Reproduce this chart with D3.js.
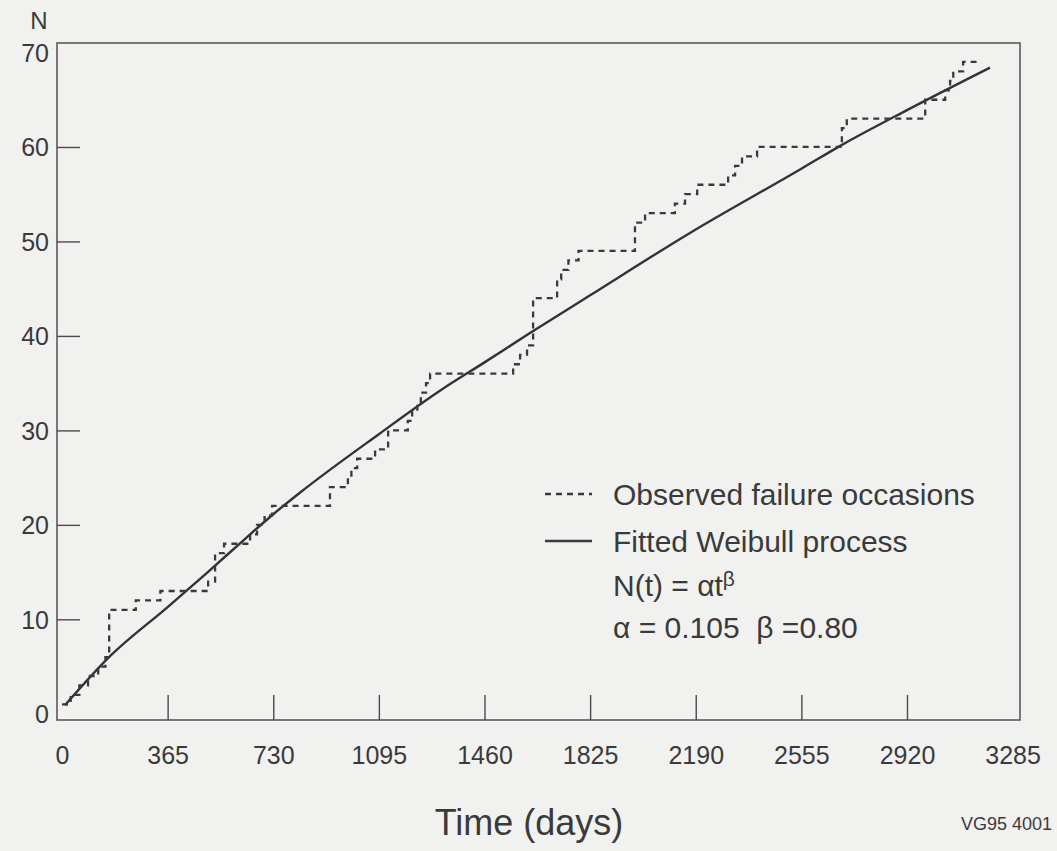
<!DOCTYPE html>
<html>
<head>
<meta charset="utf-8">
<script src="https://cdn.jsdelivr.net/npm/d3@7"></script>
<style>
  html, body { margin: 0; padding: 0; background: #f1f1f0; }
  svg { display: block; }
  text { font-family: "Liberation Sans", Arial, Helvetica, sans-serif; fill: #3a3a3a; }
</style>
</head>
<body>
<svg id="chart" width="1057" height="851"></svg>
<script>
// Axis ticks
const xTicks = [0, 365, 730, 1095, 1460, 1825, 2190, 2555, 2920, 3285];
const yTicks = [0, 10, 20, 30, 40, 50, 60, 70];

// Observed failure occasions: day of each jump and cumulative count after it
const failureDays = [0, 30, 60, 90, 125, 150, 163, 255, 340, 505, 529, 560, 650, 674, 700, 726,
  926, 988, 1000, 1020, 1082, 1127, 1195, 1210, 1228, 1240, 1258, 1272, 1559, 1583, 1607, 1628,
  1711, 1725, 1750, 1785, 1980, 2015, 2118, 2153, 2195, 2302, 2326, 2350, 2402, 2695, 2712,
  2983, 3052, 3069, 3080, 3114, 3172];
const failureCounts = [1, 2, 3, 4, 5, 6, 11, 12, 13, 14, 17, 18, 19, 20, 21, 22,
  24, 25, 26, 27, 28, 30, 31, 32, 33, 34, 35, 36, 37, 38, 39, 44,
  46, 47, 48, 49, 52, 53, 54, 55, 56, 57, 58, 59, 60, 62, 63,
  65, 66, 67, 68, 69, 69];

// Fitted Weibull process curve, sampled
const fitDays = [10, 166, 365, 500, 632, 729, 822, 1095, 1306, 1460, 1617, 1825, 2170, 2555, 2694, 2920, 3207];
const fitCounts = [0.9, 6.1, 11.3, 14.9, 18.5, 21.1, 23.4, 29.6, 34.2, 37.2, 40.3, 44.3, 50.9, 57.7, 60.2, 63.9, 68.4];

const legendLabels = ["Observed failure occasions", "Fitted Weibull process"];

const svg = d3.select("#chart");

const frame = { left: 57, right: 1020, top: 43, bottom: 720 };
const x = d3.scaleLinear().domain([0, 3285]).range([62, 1012.6]);
const y = d3.scaleLinear().domain([0, 70]).range([713.8, 52.5]);

const ink = "#3a3a3a";

// Plot frame
svg.append("rect")
  .attr("x", frame.left).attr("y", frame.top)
  .attr("width", frame.right - frame.left).attr("height", frame.bottom - frame.top)
  .attr("fill", "none").attr("stroke", "#5a5a5a").attr("stroke-width", 1.6);

// X axis ticks (pointing up from the bottom edge) and labels
const xAxis = d3.axisBottom(x).tickValues(xTicks).tickSize(0).tickPadding(0).tickFormat(d3.format("d"));
const gx = svg.append("g").attr("transform", `translate(0,${frame.bottom})`).call(xAxis);
gx.select(".domain").remove();
gx.selectAll(".tick text").attr("y", 44).attr("dy", 0)
  .style("font-size", "25px").style("fill", ink).attr("font-family", null);
gx.selectAll(".tick").filter(d => d > 0 && d < 3285).append("line")
  .attr("y1", 0).attr("y2", -25).attr("stroke", "#4a4a4a").attr("stroke-width", 1.4);

// Y axis ticks (pointing right from the left edge) and labels
const yAxis = d3.axisLeft(y).tickValues(yTicks).tickSize(0).tickPadding(0).tickFormat(d3.format("d"));
const gy = svg.append("g").attr("transform", `translate(${frame.left},0)`).call(yAxis);
gy.select(".domain").remove();
gy.selectAll(".tick text").attr("x", -8).attr("dy", "0.36em")
  .style("font-size", "25px").style("fill", ink).attr("font-family", null);
gy.selectAll(".tick").filter(d => d > 0 && d < 70).append("line")
  .attr("x1", 0).attr("x2", 23).attr("stroke", "#4a4a4a").attr("stroke-width", 1.4);

// Axis titles
svg.append("text").attr("x", 39).attr("y", 29).attr("text-anchor", "middle")
  .style("font-size", "24px").text("N");
svg.append("text").attr("x", 529).attr("y", 835).attr("text-anchor", "middle")
  .style("font-size", "36px").text("Time (days)");
svg.append("text").attr("x", 1052).attr("y", 830).attr("text-anchor", "end")
  .style("font-size", "18px").text("VG95 4001");

// Fitted curve
const fitLine = d3.line().x(d => x(d[0])).y(d => y(d[1])).curve(d3.curveMonotoneX);
svg.append("path")
  .datum(d3.zip(fitDays, fitCounts))
  .attr("d", fitLine)
  .attr("fill", "none").attr("stroke", "#333").attr("stroke-width", 2.4);

// Observed cumulative failures as a dashed staircase
const stepLine = d3.line().x(d => x(d[0])).y(d => y(d[1])).curve(d3.curveStepAfter);
svg.append("path")
  .datum(d3.zip(failureDays, failureCounts))
  .attr("d", stepLine)
  .attr("fill", "none").attr("stroke", "#3a3a3a").attr("stroke-width", 2.3)
  .attr("stroke-dasharray", "6,5");

// Legend
const legend = svg.append("g");
const legendRows = [
  { y: 494, dash: "6,5" },
  { y: 541, dash: null }
];
legendRows.forEach((row, i) => {
  legend.append("line")
    .attr("x1", 545).attr("x2", 592).attr("y1", row.y).attr("y2", row.y)
    .attr("stroke", "#3a3a3a").attr("stroke-width", 2.3)
    .attr("stroke-dasharray", row.dash);
  legend.append("text").attr("x", 613).attr("y", row.y).attr("dy", "0.36em")
    .style("font-size", "30px").text(legendLabels[i]);
});
const formula = legend.append("text").attr("x", 613).attr("y", 585).attr("dy", "0.36em")
  .style("font-size", "30px");
formula.append("tspan").text("N(t) = \u03B1t");
formula.append("tspan").attr("dy", "-0.45em").style("font-size", "21px").text("\u03B2");
legend.append("text").attr("x", 613).attr("y", 627).attr("dy", "0.36em")
  .style("font-size", "30px").attr("xml:space", "preserve")
  .text("\u03B1 = 0.105  \u03B2 =0.80");
</script>
</body>
</html>
